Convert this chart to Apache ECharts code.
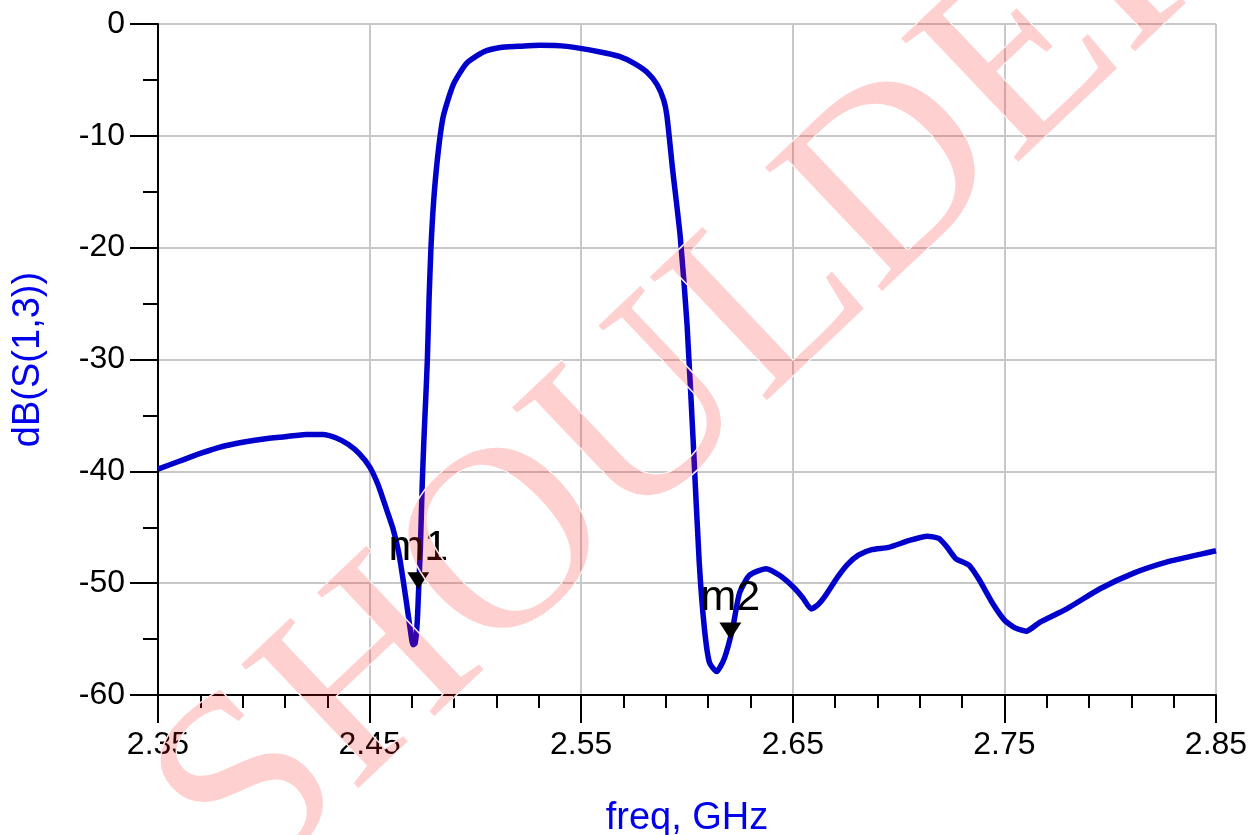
<!DOCTYPE html>
<html>
<head>
<meta charset="utf-8">
<title>dB(S(1,3))</title>
<script src="https://cdn.jsdelivr.net/npm/echarts/dist/echarts.min.js"></script>
<style>
  html, body { margin: 0; padding: 0; background: #fff; }
  #main { width: 1260px; height: 835px; }
</style>
</head>
<body>
<div id="main"></div>
<script>
// freq (GHz) and dB(S(1,3))
var freq = [
  2.350, 2.360, 2.370, 2.380, 2.390, 2.400, 2.410, 2.420, 2.428, 2.434,
  2.440, 2.445, 2.450, 2.454, 2.458, 2.461, 2.4638, 2.466, 2.468, 2.4695,
  2.4705, 2.4715, 2.4725, 2.4733, 2.4740, 2.4749, 2.4757, 2.4765, 2.4773, 2.4781,
  2.4790, 2.4804, 2.4825, 2.4849, 2.4896, 2.4959, 2.5038, 2.5117, 2.5200, 2.5306,
  2.5432, 2.5590, 2.5680, 2.5748, 2.5810, 2.5858, 2.5890, 2.5905, 2.5932, 2.5968,
  2.6000, 2.6031, 2.6058, 2.6082, 2.6106, 2.6140, 2.6177, 2.6216, 2.6248, 2.6295,
  2.6374, 2.6437, 2.6500, 2.6547, 2.6587, 2.6620, 2.6651, 2.6714, 2.6760, 2.6810,
  2.6873, 2.6952, 2.7048, 2.7135, 2.7190, 2.7230, 2.7270, 2.7333, 2.7381, 2.7444,
  2.7500, 2.7550, 2.7603, 2.7667, 2.7794, 2.7952, 2.8111, 2.8270, 2.8429, 2.8500
];
var s13 = [
  -39.8, -39.1, -38.4, -37.8, -37.4, -37.1, -36.9, -36.7, -36.7, -37.0,
  -37.6, -38.4, -39.6, -41.2, -43.4, -45.1, -47.3, -49.9, -52.5, -54.5,
  -55.5, -55.4, -53.5, -50.0, -46.8, -41.0, -37.0, -33.6, -30.0, -24.6,
  -20.0, -15.5, -11.3, -8.2, -5.4, -3.5, -2.5, -2.1, -2.0, -1.9,
  -2.0, -2.5, -2.9, -3.5, -4.3, -5.4, -6.8, -8.2, -13.0, -19.0,
  -26.8, -38.0, -48.2, -54.0, -57.1, -57.9, -56.7, -54.0, -50.9, -49.3,
  -48.7, -49.3, -50.3, -51.3, -52.3, -51.9, -51.2, -49.4, -48.3, -47.5,
  -47.0, -46.8, -46.2, -45.8, -46.0, -46.8, -47.8, -48.4, -49.7, -51.8,
  -53.3, -54.0, -54.3, -53.5, -52.3, -50.5, -49.1, -48.1, -47.4, -47.1
];

// markers
var markerNames = ['m1', 'm2'];
var markerFreq = [2.473, 2.6205];
var markerDb = [-50.5, -55.0];

// tick labels on the frequency axis
var xTickLabels = ['2.35', '2.45', '2.55', '2.65', '2.75', '2.85'];

var chart = echarts.init(document.getElementById('main'));

var points = freq.map(function (f, i) { return [f, s13[i]]; });
var markers = markerNames.map(function (n, i) {
  return { name: n, coord: [markerFreq[i], markerDb[i]] };
});

var font = 'Liberation Sans, Arial, sans-serif';

var option = {
  animation: false,
  backgroundColor: '#fff',
  grid: {
    left: 158, right: 44, top: 24, bottom: 140,
    show: true, borderColor: '#333', borderWidth: 1,
    outerBoundsMode: 'none'
  },
  xAxis: [
    {
      // data axis, frequency in GHz
      type: 'value', min: 2.35, max: 2.85, show: false, position: 'bottom'
    },
    {
      // drawn axis, ticks counted from 2.35
      type: 'value', min: 0, max: 0.5, interval: 0.1, position: 'bottom',
      name: 'freq, GHz', nameLocation: 'middle', nameGap: 105,
      nameTextStyle: { fontSize: 38, color: '#0000ee', fontFamily: font },
      axisLine: { show: true, lineStyle: { color: '#000', width: 2 } },
      axisTick: { show: true, inside: false, length: 28, lineStyle: { color: '#000', width: 2 } },
      minorTick: { show: true, splitNumber: 5, length: 13, lineStyle: { color: '#000', width: 2 } },
      axisLabel: {
        margin: 34, fontSize: 32, color: '#000', fontFamily: font,
        formatter: function (v) { return xTickLabels[Math.round(v / 0.1)]; }
      },
      splitLine: { show: true, lineStyle: { color: '#c8c8c8', width: 2 } }
    }
  ],
  yAxis: {
    type: 'value', min: -60, max: 0, interval: 10,
    name: 'dB(S(1,3))', nameLocation: 'middle', nameGap: 110, nameRotate: 90,
    nameTextStyle: { fontSize: 38, color: '#0000ee', fontFamily: font },
    axisLine: { show: true, lineStyle: { color: '#000', width: 2 } },
    axisTick: { show: true, inside: false, length: 28, lineStyle: { color: '#000', width: 2 } },
    minorTick: { show: true, splitNumber: 2, length: 15, lineStyle: { color: '#000', width: 2 } },
    axisLabel: { margin: 33, fontSize: 32, color: '#000', fontFamily: font },
    splitLine: { show: true, lineStyle: { color: '#c8c8c8', width: 2 } }
  },
  series: [
    {
      name: 'dB(S(1,3))',
      type: 'line',
      xAxisIndex: 0,
      data: points,
      showSymbol: false,
      smooth: 0.2,
      lineStyle: { color: '#0000cc', width: 5.5 },
      markPoint: {
        symbol: 'triangle',
        symbolRotate: 180,
        symbolSize: [22, 17],
        symbolOffset: [0, -8],
        itemStyle: { color: '#000' },
        label: {
          show: true, position: 'top', distance: 3,
          formatter: '{b}', fontSize: 43, color: '#000', fontFamily: font
        },
        data: markers
      }
    }
  ],
  graphic: [
    {
      type: 'text',
      z: 100,
      x: 704, y: 366,
      rotation: 43.5 * Math.PI / 180,
      silent: true,
      style: {
        text: 'SHOULDER',
        font: '260px "Liberation Serif", serif',
        fill: 'rgba(255, 20, 20, 0.2)',
        stroke: '#fff',
        lineWidth: 1.5,
        align: 'center',
        verticalAlign: 'middle'
      }
    }
  ]
};

chart.setOption(option);
</script>
</body>
</html>
